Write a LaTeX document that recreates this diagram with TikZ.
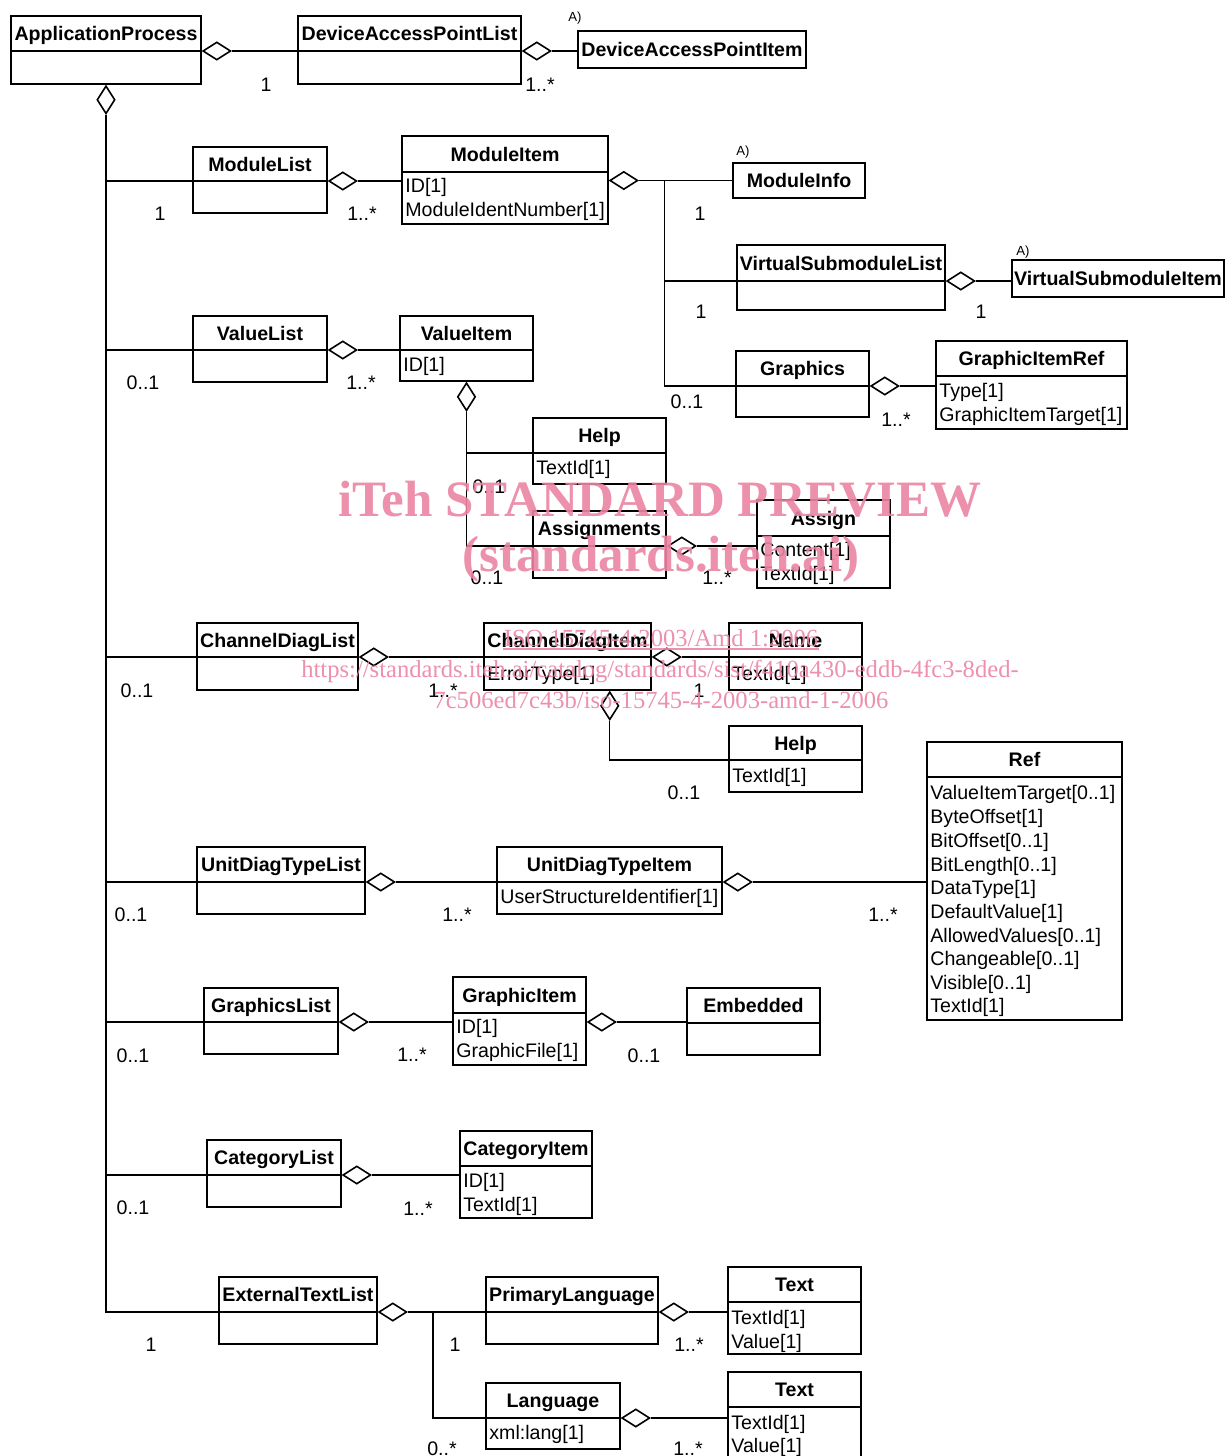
\documentclass[tikz,border=0pt]{standalone}
\usepackage{fontspec}
\setmainfont{Liberation Sans}
\newfontfamily\wmserif{Liberation Serif}
\usetikzlibrary{shapes.geometric,fit,calc}
\definecolor{wmpink}{RGB}{234,132,163}

\tikzset{
  classbox/.style={draw, line width=1pt, inner sep=0pt},
  divline/.style={line width=1pt},
  ctitle/.style={font=\fontsize{9.8pt}{11pt}\selectfont\bfseries, inner sep=0pt, anchor=base},
  cattr/.style={font=\fontsize{9.8pt}{11pt}\selectfont, inner sep=0pt, anchor=base west},
  mult/.style={font=\fontsize{9.8pt}{11pt}\selectfont, inner sep=0pt, anchor=base},
  note/.style={font=\fontsize{6.6pt}{8pt}\selectfont, inner sep=0pt, anchor=base},
  conn/.style={line width=0.7pt},
  aggh/.style={diamond, draw, line width=0.8pt, inner sep=0pt, minimum width=14pt, minimum height=9pt, anchor=west},
  aggv/.style={diamond, draw, line width=0.8pt, inner sep=0pt, minimum width=9pt, minimum height=14pt, anchor=north},
  wmbig/.style={font=\wmserif\bfseries\fontsize{25.5pt}{28pt}\selectfont, text=wmpink, inner sep=0pt, anchor=base, opacity=0.9},
  wmsmall/.style={font=\wmserif\fontsize{12.3pt}{14pt}\selectfont, text=wmpink, inner sep=0pt, anchor=base, opacity=0.9},
}

% class with a title compartment and an attribute compartment
% #1 name, #2 x1, #3 y1, #4 x2, #5 y2, #6 divider y, #7 title
\newcommand\umlclass[7]{%
  \node[classbox, fit={(#2,#3) (#4,#5)}] (#1) {};
  \coordinate (#1-d) at (#2,#6);
  \draw[divline] (#1-d) -- (#4,#6);
  \node[ctitle] (#1-t) at ($(#2,#3)!.5!(#4,#6)+(0,7)$) {#7};
}
% class shown with its name only
\newcommand\umlsingle[6]{%
  \node[classbox, fit={(#2,#3) (#4,#5)}] (#1) {};
  \node[ctitle] (#1-t) at ($(#2,#3)!.5!(#4,#5)+(0,7)$) {#6};
}
\newcommand\umlattr[4]{\node[cattr] (#1) at (#2,#3) {#4};}
\newcommand\umlmult[4]{\node[mult] (#1) at (#2,#3) {#4};}

\begin{document}
\begin{tikzpicture}[x=0.5pt, y=-0.5pt]
\useasboundingbox (0,0) rectangle (1226,1456);

% ---------- classes ----------
\umlclass{ap}{11}{16}{201}{84}{51}{ApplicationProcess}
\umlclass{dapl}{298}{16}{521}{84}{51}{DeviceAccessPointList}
\umlsingle{dapi}{578}{31}{806}{68}{DeviceAccessPointItem}

\umlclass{ml}{193}{147}{327}{213}{181}{ModuleList}
\umlclass{mi}{402}{136}{608}{224}{172}{ModuleItem}
\umlattr{mi-a1}{405}{192}{ID[1]}
\umlattr{mi-a2}{405}{216}{ModuleIdentNumber[1]}
\umlsingle{minfo}{733}{163}{865}{198}{ModuleInfo}
\umlclass{vsl}{737}{245}{945}{310}{281}{VirtualSubmoduleList}
\umlsingle{vsi}{1012}{260}{1224}{297}{VirtualSubmoduleItem}
\umlclass{gr}{736}{351}{869}{417}{386}{Graphics}
\umlclass{gir}{936}{341}{1127}{429}{376}{GraphicItemRef}
\umlattr{gir-a1}{939}{397}{Type[1]}
\umlattr{gir-a2}{939}{421}{GraphicItemTarget[1]}

\umlclass{vl}{193}{316}{327}{382}{350}{ValueList}
\umlclass{vi}{400}{316}{533}{381}{350}{ValueItem}
\umlattr{vi-a1}{403}{371}{ID[1]}
\umlclass{help}{533}{418}{666}{484}{453}{Help}
\umlattr{help-a1}{536}{474}{TextId[1]}
\umlclass{asgs}{533}{511}{666}{578}{546}{Assignments}
\umlclass{asg}{757}{500}{890}{588}{536}{Assign}
\umlattr{asg-a1}{760}{556}{Content[1]}
\umlattr{asg-a2}{760}{580}{TextId[1]}

\umlclass{cdl}{197}{623}{358}{690}{657}{ChannelDiagList}
\umlclass{cdi}{484}{623}{651}{690}{657}{ChannelDiagItem}
\umlattr{cdi-a1}{487}{680}{ErrorType[1]}
\umlclass{nm}{729}{623}{862}{690}{657}{Name}
\umlattr{nm-a1}{732}{680}{TextId[1]}
\umlclass{helpb}{729}{726}{862}{792}{760}{Help}
\umlattr{helpb-a1}{732}{782}{TextId[1]}

\umlclass{udtl}{197}{847}{365}{914}{882}{UnitDiagTypeList}
\umlclass{udti}{497}{847}{722}{914}{882}{UnitDiagTypeItem}
\umlattr{udti-a1}{500}{903}{UserStructureIdentifier[1]}
\umlclass{ref}{927}{742}{1122}{1020}{777}{Ref}
\umlattr{ref-a1}{930}{799}{ValueItemTarget[0..1]}
\umlattr{ref-a2}{930}{823}{ByteOffset[1]}
\umlattr{ref-a3}{930}{847}{BitOffset[0..1]}
\umlattr{ref-a4}{930}{871}{BitLength[0..1]}
\umlattr{ref-a5}{930}{894}{DataType[1]}
\umlattr{ref-a6}{930}{918}{DefaultValue[1]}
\umlattr{ref-a7}{930}{942}{AllowedValues[0..1]}
\umlattr{ref-a8}{930}{965}{Changeable[0..1]}
\umlattr{ref-a9}{930}{989}{Visible[0..1]}
\umlattr{ref-a10}{930}{1012}{TextId[1]}

\umlclass{gl}{204}{988}{338}{1054}{1022}{GraphicsList}
\umlclass{gi}{453}{977}{586}{1065}{1013}{GraphicItem}
\umlattr{gi-a1}{456}{1033}{ID[1]}
\umlattr{gi-a2}{456}{1057}{GraphicFile[1]}
\umlclass{emb}{687}{988}{820}{1055}{1023}{Embedded}

\umlclass{cl}{207}{1140}{341}{1207}{1175}{CategoryList}
\umlclass{ci}{460}{1131}{592}{1218}{1166}{CategoryItem}
\umlattr{ci-a1}{463}{1187}{ID[1]}
\umlattr{ci-a2}{463}{1211}{TextId[1]}

\umlclass{etl}{219}{1277}{377}{1344}{1312}{ExternalTextList}
\umlclass{pl}{486}{1277}{658}{1344}{1312}{PrimaryLanguage}
\umlclass{txa}{728}{1267}{861}{1354}{1302}{Text}
\umlattr{txa-a1}{731}{1324}{TextId[1]}
\umlattr{txa-a2}{731}{1348}{Value[1]}
\umlclass{lang}{486}{1383}{620}{1449}{1418}{Language}
\umlattr{lang-a1}{489}{1439}{xml:lang[1]}
\umlclass{txb}{728}{1372}{861}{1480}{1407}{Text}
\umlattr{txb-a1}{731}{1429}{TextId[1]}
\umlattr{txb-a2}{731}{1452}{Value[1]}

% ---------- aggregations ----------
\node[aggh] (ap-agg) at (ap.east |- ap-d) {};
\draw[conn] (ap-agg.east) -- (dapl.west |- ap-agg.east);
\node[aggh] (dapl-agg) at (dapl.east |- dapl-d) {};
\draw[conn] (dapl-agg.east) -- (dapi.west |- dapl-agg.east);

% spine below ApplicationProcess
\node[aggv] (ap-aggv) at (ap.south) {};
\draw[conn] (ap-aggv.south) |- (etl-d);
\draw[conn] (ap-aggv.south |- ml-d) -- (ml-d);
\draw[conn] (ap-aggv.south |- vl-d) -- (vl-d);
\draw[conn] (ap-aggv.south |- cdl-d) -- (cdl-d);
\draw[conn] (ap-aggv.south |- udtl-d) -- (udtl-d);
\draw[conn] (ap-aggv.south |- gl-d) -- (gl-d);
\draw[conn] (ap-aggv.south |- cl-d) -- (cl-d);

% modules
\node[aggh] (ml-agg) at (ml.east |- ml-d) {};
\draw[conn] (ml-agg.east) -- (mi.west |- ml-agg.east);
\node[aggh] (mi-agg) at (mi.east |- minfo) {};
\coordinate (mi-j) at ($(mi-agg.east)+(26,0)$);
\draw[conn] (mi-agg.east) -- (minfo.west |- mi-agg.east);
\draw[conn] (mi-j) |- (gr-d);
\draw[conn] (mi-j |- vsl-d) -- (vsl-d);
\node[aggh] (vsl-agg) at (vsl.east |- vsl-d) {};
\draw[conn] (vsl-agg.east) -- (vsi.west |- vsl-agg.east);
\node[aggh] (gr-agg) at (gr.east |- gr-d) {};
\draw[conn] (gr-agg.east) -- (gir.west |- gr-agg.east);

% values
\node[aggh] (vl-agg) at (vl.east |- vl-d) {};
\draw[conn] (vl-agg.east) -- (vi.west |- vl-agg.east);
\node[aggv] (vi-aggv) at (vi.south) {};
\draw[conn] (vi-aggv.south) |- (asgs-d);
\draw[conn] (vi-aggv.south |- help-d) -- (help-d);
\node[aggh] (asgs-agg) at (asgs.east |- asgs-d) {};
\draw[conn] (asgs-agg.east) -- (asg.west |- asgs-agg.east);

% channel diagnosis
\node[aggh] (cdl-agg) at (cdl.east |- cdl-d) {};
\draw[conn] (cdl-agg.east) -- (cdi.west |- cdl-agg.east);
\node[aggh] (cdi-agg) at (cdi.east |- cdi-d) {};
\draw[conn] (cdi-agg.east) -- (nm.west |- cdi-agg.east);
\node[aggv] (cdi-aggv) at ($(cdi.south west)!0.75!(cdi.south east)$) {};
\draw[conn] (cdi-aggv.south) |- (helpb-d);

% unit diagnosis types
\node[aggh] (udtl-agg) at (udtl.east |- udtl-d) {};
\draw[conn] (udtl-agg.east) -- (udti.west |- udtl-agg.east);
\node[aggh] (udti-agg) at (udti.east |- udti-d) {};
\draw[conn] (udti-agg.east) -- (ref.west |- udti-agg.east);

% graphics
\node[aggh] (gl-agg) at (gl.east |- gl-d) {};
\draw[conn] (gl-agg.east) -- (gi.west |- gl-agg.east);
\node[aggh] (gi-agg) at (gi.east |- gl-d) {};
\draw[conn] (gi-agg.east) -- (emb.west |- gi-agg.east);

% categories
\node[aggh] (cl-agg) at (cl.east |- cl-d) {};
\draw[conn] (cl-agg.east) -- (ci.west |- cl-agg.east);

% external texts
\node[aggh] (etl-agg) at (etl.east |- etl-d) {};
\coordinate (etl-j) at (433,1312);
\draw[conn] (etl-agg.east) -- (pl-d);
\draw[conn] (etl-j) |- (lang-d);
\node[aggh] (pl-agg) at (pl.east |- pl-d) {};
\draw[conn] (pl-agg.east) -- (txa.west |- pl-agg.east);
\node[aggh] (lang-agg) at (lang.east |- lang-d) {};
\draw[conn] (lang-agg.east) -- (txb.west |- lang-agg.east);

% ---------- notes ----------
\node[note] (n1) at (575,21) {A)};
\node[note] (n2) at (743,155) {A)};
\node[note] (n3) at (1023,255) {A)};

% ---------- multiplicities ----------
\umlmult{m1}{266}{91}{1}
\umlmult{m2}{540}{91}{1..*}
\umlmult{m3}{160}{220}{1}
\umlmult{m4}{362}{220}{1..*}
\umlmult{m5}{700}{220}{1}
\umlmult{m6}{701}{318}{1}
\umlmult{m7}{981}{318}{1}
\umlmult{m8}{687}{408}{0..1}
\umlmult{m9}{896}{426}{1..*}
\umlmult{m10}{143}{389}{0..1}
\umlmult{m11}{361}{389}{1..*}
\umlmult{m12}{489}{493}{0..1}
\umlmult{m13}{487}{584}{0..1}
\umlmult{m14}{717}{584}{1..*}
\umlmult{m15}{137}{697}{0..1}
\umlmult{m16}{443}{697}{1..*}
\umlmult{m17}{699}{697}{1}
\umlmult{m18}{684}{799}{0..1}
\umlmult{m19}{131}{921}{0..1}
\umlmult{m20}{457}{921}{1..*}
\umlmult{m21}{883}{921}{1..*}
\umlmult{m22}{133}{1062}{0..1}
\umlmult{m23}{412}{1061}{1..*}
\umlmult{m24}{644}{1062}{0..1}
\umlmult{m25}{133}{1214}{0..1}
\umlmult{m26}{418}{1215}{1..*}
\umlmult{m27}{151}{1351}{1}
\umlmult{m28}{455}{1351}{1}
\umlmult{m29}{689}{1351}{1..*}
\umlmult{m30}{442}{1455}{0..*}
\umlmult{m31}{688}{1455}{1..*}

% ---------- preview stamp ----------
\node[wmbig] (wm1) at (660,516) {iTeh STANDARD PREVIEW};
\node[wmbig] (wm2) at (661,571) {(standards.iteh.ai)};
\node[wmsmall] (wm3) at (661,646) {ISO 15745-4:2003/Amd 1:2006};
\draw[wmpink, line width=0.6pt, opacity=0.9] ($(wm3.base west)+(0,3)$) -- ($(wm3.base east)+(0,3)$);
\node[wmsmall] (wm4) at (660,677) {https://standards.iteh.ai/catalog/standards/sist/f410a430-eddb-4fc3-8ded-};
\node[wmsmall] (wm5) at (661,708) {7c506ed7c43b/iso-15745-4-2003-amd-1-2006};
\end{tikzpicture}
\end{document}
